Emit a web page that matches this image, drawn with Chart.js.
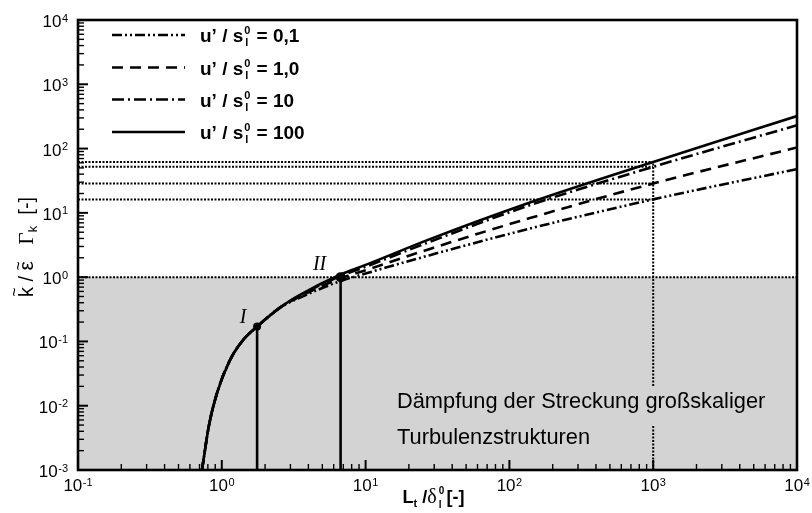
<!DOCTYPE html>
<html>
<head>
<meta charset="utf-8">
<script src="https://cdn.jsdelivr.net/npm/chart.js@4.4.1/dist/chart.umd.min.js"></script>
<style>
  html, body { margin: 0; padding: 0; background: #fff; }
  #wrap { width: 812px; height: 513px; position: relative; }
</style>
</head>
<body>
<div id="wrap"><canvas id="c"></canvas></div>
<script>
// Normalised turbulent length scale L_t / delta_l^0
const lengthRatio = [0.728, 0.815, 0.926, 1.14, 1.404, 1.76, 2.54, 3.5, 6.7, 10, 28, 139, 1000, 10000];

// k/eps * Gamma_k for the four velocity ratios u'/s_l^0
const gammaU01  = [0.001, 0.005, 0.0157, 0.0512, 0.1047, 0.17, 0.336, 0.48, 0.87, 1.14, 2.2,  5.7,  16.2, 48];
const gammaU1   = [0.001, 0.005, 0.0157, 0.0512, 0.1047, 0.17, 0.336, 0.50, 0.96, 1.28, 2.75, 8.3,  28.6, 104];
const gammaU10  = [0.001, 0.005, 0.0157, 0.0512, 0.1047, 0.17, 0.336, 0.52, 1.04, 1.45, 3.55, 13.2, 52,   231];
const gammaU100 = [0.001, 0.005, 0.0157, 0.0512, 0.1047, 0.17, 0.336, 0.53, 1.10, 1.55, 3.9,  14.5, 62,   320];

const seriesLabels = ['0,1', '1,0', '10', '100'];

// Marked points I and II
const markerNames = ['I', 'II'];
const markerX = [1.76, 6.7];
const markerY = [0.17, 1.0];

// Upper bound of the damped region and the reading position of the dotted guides
const dampingLimit = 1;
const readingLength = 1000;

// Decade exponents for the tick labels
const xTickExps = [-1, 0, 1, 2, 3, 4];
const yTickExps = [-3, -2, -1, 0, 1, 2, 3, 4];

const X_MIN = 0.1, X_MAX = 10000, Y_MIN = 0.001, Y_MAX = 10000;
const GREY = 'rgb(211,211,211)';
const SANS = '"Liberation Sans", Arial, sans-serif';
const SERIF = '"Liberation Serif", "Times New Roman", serif';

const curveStyles = [
  { data: gammaU01,  dash: [10, 3, 2, 3, 2, 3] },
  { data: gammaU1,   dash: [11, 7] },
  { data: gammaU10,  dash: [12, 4, 2, 4] },
  { data: gammaU100, dash: [] }
];

const pts = (xs, ys) => xs.map((x, i) => ({ x, y: ys[i] }));
const idxRead = lengthRatio.indexOf(readingLength);
const readLevels = curveStyles.map(c => c.data[idxRead]);
const dotted = { borderColor: '#000', borderWidth: 2, borderDash: [2, 1.5], pointRadius: 0, showLine: true, fill: false };

const datasets = [];
// guide lines
datasets.push(Object.assign({ data: [{ x: X_MIN, y: dampingLimit }, { x: X_MAX, y: dampingLimit }] }, dotted));
readLevels.forEach(v => datasets.push(Object.assign({ data: [{ x: X_MIN, y: v }, { x: readingLength, y: v }] }, dotted)));
datasets.push(Object.assign({ data: [{ x: readingLength, y: Y_MIN }, { x: readingLength, y: Math.max(...readLevels) }] }, dotted));
// curves
curveStyles.forEach(c => datasets.push({
  data: pts(lengthRatio, c.data),
  borderColor: '#000', borderWidth: 2.6, borderDash: c.dash,
  pointRadius: 0, showLine: true, fill: false, cubicInterpolationMode: 'monotone'
}));
// vertical drop lines at I and II
markerX.forEach((x, i) => datasets.push({
  data: [{ x, y: Y_MIN }, { x, y: markerY[i] }],
  borderColor: '#000', borderWidth: 2.6, pointRadius: 0, showLine: true
}));
// markers
datasets.push({
  data: pts(markerX, markerY), showLine: false,
  pointRadius: [4, 5], pointBackgroundColor: '#000', pointBorderColor: '#000', pointBorderWidth: 0
});

function drawPow(ctx, cx, cy, exp, mode) {
  // draws "10^exp"; mode 'right' -> right edge at cx, 'center' -> centered at cx
  ctx.font = '17px ' + SANS;
  const wb = ctx.measureText('10').width;
  ctx.font = '11px ' + SANS;
  const es = String(exp);
  const we = ctx.measureText(es).width;
  const total = wb + we + 0.5;
  const x0 = mode === 'right' ? cx - total : cx - total / 2;
  ctx.textAlign = 'left';
  ctx.textBaseline = 'alphabetic';
  ctx.font = '17px ' + SANS;
  ctx.fillText('10', x0, cy + 7);
  ctx.font = '11px ' + SANS;
  ctx.fillText(es, x0 + wb + 0.5, cy + 1.5);
}

const decor = {
  id: 'decor',
  beforeDatasetsDraw(chart) {
    const { ctx, chartArea: a, scales: { y } } = chart;
    const yT = y.getPixelForValue(dampingLimit);
    ctx.save();
    ctx.fillStyle = GREY;
    ctx.fillRect(a.left, yT, a.right - a.left, a.bottom - yT);
    ctx.restore();
  },
  afterDatasetsDraw(chart) {
    const { ctx, chartArea: a, scales: { x, y } } = chart;
    ctx.save();
    ctx.fillStyle = '#000';

    // annotation inside the damped region
    ctx.font = '21.8px ' + SANS;
    ctx.textBaseline = 'alphabetic';
    ctx.textAlign = 'left';
    const line1 = 'Dämpfung der Streckung großskaliger';
    const line2 = 'Turbulenzstrukturen';
    const tx = 397, b1 = 408, b2 = 444;
    const w1 = ctx.measureText(line1).width;
    ctx.fillStyle = GREY;
    ctx.fillRect(tx - 2, b1 - 21, w1 + 4, 38);
    ctx.fillStyle = '#000';
    ctx.fillText(line1, tx, b1);
    ctx.fillText(line2, tx, b2);

    // point names
    ctx.font = 'italic 20px ' + SERIF;
    ctx.textAlign = 'center';
    markerNames.forEach((n, i) => {
      const px = x.getPixelForValue(markerX[i]);
      const py = y.getPixelForValue(markerY[i]);
      if (i === 0) ctx.fillText(n, px - 14, py - 4);
      else ctx.fillText(n, px - 21, py - 7);
    });

    // inward ticks on bottom and left axes
    ctx.strokeStyle = '#000';
    ctx.setLineDash([]);
    for (let d = -1; d <= 4; d++) {
      for (let m = 1; m <= 9; m++) {
        const v = m * Math.pow(10, d);
        if (v > X_MAX * 1.0001) break;
        const px = x.getPixelForValue(v);
        const len = m === 1 ? 10 : 6;
        ctx.lineWidth = m === 1 ? 2 : 1.4;
        ctx.beginPath(); ctx.moveTo(px, a.bottom); ctx.lineTo(px, a.bottom - len); ctx.stroke();
      }
    }
    for (let d = -3; d <= 4; d++) {
      for (let m = 1; m <= 9; m++) {
        const v = m * Math.pow(10, d);
        if (v > Y_MAX * 1.0001) break;
        const py = y.getPixelForValue(v);
        const len = m === 1 ? 10 : 6;
        ctx.lineWidth = m === 1 ? 2 : 1.4;
        ctx.beginPath(); ctx.moveTo(a.left, py); ctx.lineTo(a.left + len, py); ctx.stroke();
      }
    }

    // frame
    ctx.lineWidth = 2.6;
    ctx.strokeRect(a.left, a.top, a.right - a.left, a.bottom - a.top);

    // tick labels
    ctx.fillStyle = '#000';
    yTickExps.forEach(e => drawPow(ctx, a.left - 10, y.getPixelForValue(Math.pow(10, e)), e, 'right'));
    xTickExps.forEach(e => drawPow(ctx, x.getPixelForValue(Math.pow(10, e)), 484, e, 'center'));

    // x axis title: L_t / delta_l^0 [-]
    {
      const base = 503;
      const parts = [];
      ctx.textAlign = 'left';
      ctx.textBaseline = 'alphabetic';
      const seg = (txt, font, dy, adv) => parts.push({ txt, font, dy, adv });
      seg('L', 'bold 18px ' + SANS, 0, true);
      seg('t', 'bold 11px ' + SANS, 4, true);
      seg(' /', 'bold 18px ' + SANS, 0, true);
      seg('δ', '20px ' + SERIF, 0, true);
      seg(' ', 'bold 8px ' + SANS, 0, true);
      seg('0', 'bold 10px ' + SANS, -9, false);
      seg('l', 'bold 10px ' + SANS, 5, true);
      seg(' [-]', 'bold 18px ' + SANS, 0, true);
      let tot = 0;
      parts.forEach(p => { ctx.font = p.font; p.w = ctx.measureText(p.txt).width; if (p.adv) tot += p.w; });
      let cx = (a.left + a.right) / 2 - tot / 2 - 4;
      parts.forEach(p => { ctx.font = p.font; ctx.fillText(p.txt, cx, base + p.dy); if (p.adv) cx += p.w; });
    }

    // y axis title: k~ / eps~  Gamma_k  [-]
    {
      ctx.translate(33, (a.top + a.bottom) / 2 + 2);
      ctx.rotate(-Math.PI / 2);
      ctx.textAlign = 'left';
      ctx.textBaseline = 'alphabetic';
      const parts = [
        { txt: 'k', font: '20px ' + SANS, dy: 0, tilde: -19 },
        { txt: ' / ', font: '20px ' + SANS, dy: 0 },
        { txt: 'ε', font: '21px ' + SANS, dy: 0, tilde: -15 },
        { txt: '   ', font: '20px ' + SANS, dy: 0 },
        { txt: 'Γ', font: '21px ' + SERIF, dy: 0 },
        { txt: 'k', font: '13px ' + SANS, dy: 4 },
        { txt: '  [-]', font: '20px ' + SANS, dy: 0 }
      ];
      let tot = 0;
      parts.forEach(p => { ctx.font = p.font; p.w = ctx.measureText(p.txt).width; tot += p.w; });
      let cx = -tot / 2;
      parts.forEach(p => {
        ctx.font = p.font;
        ctx.fillText(p.txt, cx, p.dy);
        if (p.tilde !== undefined) {
          ctx.font = '16px ' + SANS;
          const tw = ctx.measureText('~').width;
          ctx.fillText('~', cx + p.w / 2 - tw / 2, p.tilde + 6);
        }
        cx += p.w;
      });
      ctx.setTransform(1, 0, 0, 1, 0, 0);
    }

    // legend
    const rowsY = [35, 67.5, 99.5, 132];
    curveStyles.forEach((c, i) => {
      const yy = rowsY[i];
      ctx.strokeStyle = '#000';
      ctx.lineWidth = 2.6;
      ctx.setLineDash(c.dash);
      ctx.beginPath(); ctx.moveTo(112, yy); ctx.lineTo(185, yy); ctx.stroke();
      ctx.setLineDash([]);
      const base = yy + 7;
      let px = 200;
      ctx.textAlign = 'left';
      ctx.font = 'bold 19px ' + SANS;
      ctx.fillText('u’ / s', px, base);
      px += ctx.measureText('u’ / s').width + 1;
      ctx.font = 'bold 11px ' + SANS;
      ctx.fillText('0', px, base - 8);
      ctx.fillText('l', px + 1, base + 4);
      px += 7;
      ctx.font = 'bold 19px ' + SANS;
      ctx.fillText(' = ' + seriesLabels[i], px, base);
    });

    ctx.restore();
  }
};

new Chart(document.getElementById('c'), {
  type: 'scatter',
  data: { datasets },
  options: {
    responsive: true,
    maintainAspectRatio: false,
    animation: false,
    events: [],
    layout: { padding: { left: 78, right: 15, top: 20, bottom: 43 } },
    plugins: { legend: { display: false }, tooltip: { enabled: false } },
    scales: {
      x: { type: 'logarithmic', min: X_MIN, max: X_MAX, display: false },
      y: { type: 'logarithmic', min: Y_MIN, max: Y_MAX, display: false }
    }
  },
  plugins: [decor]
});
</script>
</body>
</html>
